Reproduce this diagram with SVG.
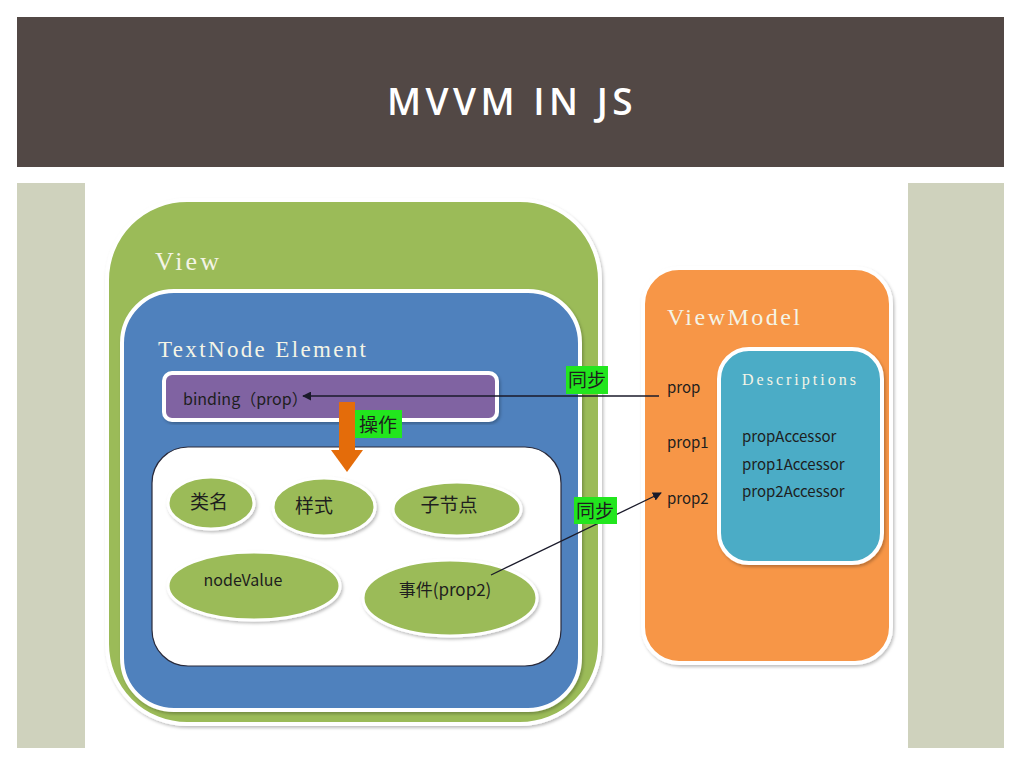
<svg xmlns="http://www.w3.org/2000/svg" width="1024" height="768" viewBox="0 0 1024 768">
<defs>
<style>
.mono{font-family:"Liberation Serif","DejaVu Serif",serif;fill:#F4F4E6}
.cn{font-family:"Noto Sans CJK SC","Noto Sans",sans-serif;fill:#1E1E1E}
.lat{font-family:"Open Sans","Noto Sans",sans-serif}
.ell{fill:#9BBB59;stroke:#FFFFFF;stroke-width:3}
.tag{fill:#22E61E}
.conn{stroke:#1A1A2A;stroke-width:1.3;fill:none}
</style>
<marker id="ah" viewBox="0 0 10 10" refX="9" refY="5" markerWidth="9" markerHeight="9" orient="auto-start-reverse" markerUnits="userSpaceOnUse">
<path d="M0,0 L10,5 L0,10 z" fill="#1A1A2A"/>
</marker>
<filter id="sh" x="-10%" y="-10%" width="120%" height="120%">
<feDropShadow dx="1.5" dy="2" stdDeviation="1.5" flood-color="#000" flood-opacity="0.25"/>
</filter>
</defs>
<rect x="0" y="0" width="1024" height="768" fill="#FFFFFF"/>
<g id="header">
<rect x="17" y="17" width="987" height="150" fill="#524845"/>
<text x="512" y="115" text-anchor="middle" class="lat" font-size="37" font-weight="600" fill="#FFFFFF" letter-spacing="4.5">MVVM IN JS</text>
</g>
<g id="panel">
<rect x="17" y="183" width="987" height="565" fill="#CFD2BD"/>
<rect x="85" y="183" width="823" height="565" fill="#FFFFFF"/>
</g>
<g id="view">
<rect x="107" y="200" width="493" height="524" rx="80" fill="#9BBB59" stroke="#FFFFFF" stroke-width="4" filter="url(#sh)"/>
<text x="155" y="270" class="mono" font-size="26" textLength="64" lengthAdjust="spacing">View</text>
</g>
<g id="textnode">
<rect x="122" y="291" width="458" height="419" rx="52" fill="#4F81BD" stroke="#FFFFFF" stroke-width="4" filter="url(#sh)"/>
<text x="158" y="357" class="mono" font-size="23" textLength="208" lengthAdjust="spacing">TextNode Element</text>
</g>
<g id="binding">
<rect x="164" y="373" width="333" height="47" rx="8" fill="#8064A2" stroke="#FFFFFF" stroke-width="4" filter="url(#sh)"/>
<text x="183" y="405" class="cn" font-size="16" fill="#2A2440">binding（prop）</text>
</g>
<g id="inner">
<rect x="152" y="447" width="409" height="219" rx="36" fill="#FFFFFF" stroke="#2A2A3A" stroke-width="1.2"/>
</g>
<g id="n-leiming">
<ellipse cx="211" cy="503" rx="43" ry="26" class="ell" filter="url(#sh)"/>
<text x="209" y="509" text-anchor="middle" class="cn" font-size="19">类名</text>
</g>
<g id="n-yangshi">
<ellipse cx="324" cy="507" rx="51" ry="29" class="ell" filter="url(#sh)"/>
<text x="314" y="513" text-anchor="middle" class="cn" font-size="19">样式</text>
</g>
<g id="n-zijiedian">
<ellipse cx="457" cy="509" rx="64" ry="27" class="ell" filter="url(#sh)"/>
<text x="449" y="512" text-anchor="middle" class="cn" font-size="19">子节点</text>
</g>
<g id="n-nodevalue">
<ellipse cx="254" cy="586" rx="86" ry="34" class="ell" filter="url(#sh)"/>
<text x="243" y="586" text-anchor="middle" class="cn" font-size="16">nodeValue</text>
</g>
<g id="n-shijian">
<ellipse cx="450" cy="598" rx="87" ry="38" class="ell" filter="url(#sh)"/>
<text x="445" y="596" text-anchor="middle" class="cn" font-size="17">事件(prop2)</text>
</g>
<g id="viewmodel">
<rect x="643" y="268" width="248" height="395" rx="36" fill="#F79646" stroke="#FFFFFF" stroke-width="4" filter="url(#sh)"/>
<text x="667" y="325" class="mono" font-size="24" textLength="133" lengthAdjust="spacing">ViewModel</text>
<text x="667" y="393" class="cn" font-size="15" fill="#5A1E0E">prop</text>
<text x="667" y="448" class="cn" font-size="15" fill="#5A1E0E">prop1</text>
<text x="667" y="504" class="cn" font-size="15" fill="#5A1E0E">prop2</text>
</g>
<g id="descriptions">
<rect x="719" y="349" width="163" height="214" rx="30" fill="#4BACC6" stroke="#FFFFFF" stroke-width="4" filter="url(#sh)"/>
<text x="742" y="385" class="mono" font-size="16" textLength="114" lengthAdjust="spacing">Descriptions</text>
<text x="742" y="442" class="cn" font-size="15" fill="#1A2A4A">propAccessor</text>
<text x="742" y="470" class="cn" font-size="15" fill="#1A2A4A">prop1Accessor</text>
<text x="742" y="497" class="cn" font-size="15" fill="#1A2A4A">prop2Accessor</text>
</g>
<g id="connectors">
<line x1="659" y1="396" x2="303" y2="396" class="conn" marker-end="url(#ah)"/>
<line x1="491" y1="575" x2="661" y2="493" class="conn" marker-end="url(#ah)"/>
<g id="op-arrow">
<rect x="339" y="402" width="16" height="50" fill="#E46C0A"/>
<polygon points="331,450 363,450 347,472" fill="#E46C0A"/>
</g>
<rect x="566" y="366" width="42" height="28" class="tag"/>
<text x="587" y="387" text-anchor="middle" class="cn" font-size="19">同步</text>
<rect x="574" y="497" width="43" height="27" class="tag"/>
<text x="595" y="518" text-anchor="middle" class="cn" font-size="19">同步</text>
<rect x="355" y="410" width="47" height="28" class="tag"/>
<text x="378" y="432" text-anchor="middle" class="cn" font-size="19">操作</text>
</g>
</svg>
